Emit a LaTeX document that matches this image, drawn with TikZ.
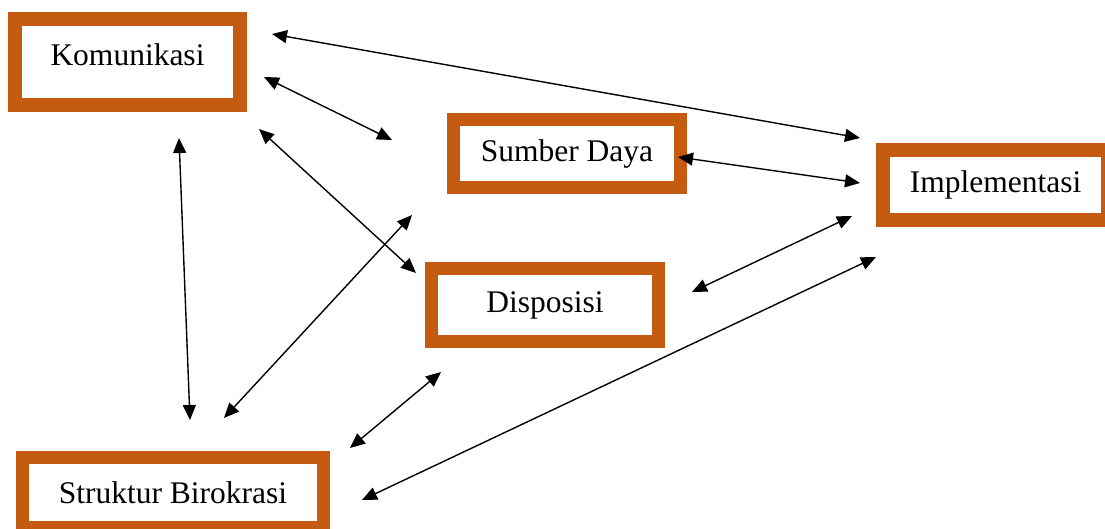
\documentclass[tikz,border=0pt]{standalone}
\usepackage{fontspec}
\setmainfont{Liberation Serif}
\usetikzlibrary{arrows.meta}
\definecolor{boxorange}{HTML}{C55A11}
\tikzset{
  box/.style={draw=boxorange, fill=white, line width=14pt, inner sep=0pt, font=\fontsize{31.5}{36}\selectfont},
  link/.style={line width=1.4pt, {Triangle[length=15pt,width=13pt]}-{Triangle[length=15pt,width=13pt]}}
}
\begin{document}
\begin{tikzpicture}[x=1pt,y=-1pt]
\useasboundingbox (0,0) rectangle (1105,529);
\begin{scope}
\clip (0,0) rectangle (1105,529);
\node[box, minimum width=225pt, minimum height=86pt, text depth=14pt] (kom) at (127.5,62) {Komunikasi};
\node[box, line width=13pt, minimum width=227pt, minimum height=68pt] (sd) at (567,153.5) {Sumber Daya};
\node[box, minimum width=225pt, minimum height=70pt] (imp) at (995.5,185) {Implementasi};
\node[box, line width=13pt, minimum width=227pt, minimum height=73pt] (dis) at (545,305) {Disposisi};
\node[box, line width=13pt, minimum width=301pt, minimum height=70pt] (sb) at (173,492.5) {Struktur Birokrasi};
\end{scope}
% endpoints
\coordinate (a1) at (272,34);  \coordinate (a2) at (860,138);
\coordinate (b1) at (264,77);  \coordinate (b2) at (392,140);
\coordinate (c1) at (259,129); \coordinate (c2) at (416,273);
\coordinate (d1) at (179,138); \coordinate (d2) at (190,420);
\coordinate (e1) at (224,418); \coordinate (e2) at (412,215);
\coordinate (f1) at (350,448); \coordinate (f2) at (441,372);
\coordinate (g1) at (362,500); \coordinate (g2) at (876,257);
\coordinate (h1) at (678,157); \coordinate (h2) at (860,183);
\coordinate (i1) at (692,292); \coordinate (i2) at (852,216);
\draw[link] (a1) -- (a2);
\draw[link] (b1) -- (b2);
\draw[link] (c1) -- (c2);
\draw[link] (d1) -- (d2);
\draw[link] (e1) -- (e2);
\draw[link] (f1) -- (f2);
\draw[link] (g1) -- (g2);
\draw[link] (h1) -- (h2);
\draw[link] (i1) -- (i2);
\end{tikzpicture}
\end{document}
